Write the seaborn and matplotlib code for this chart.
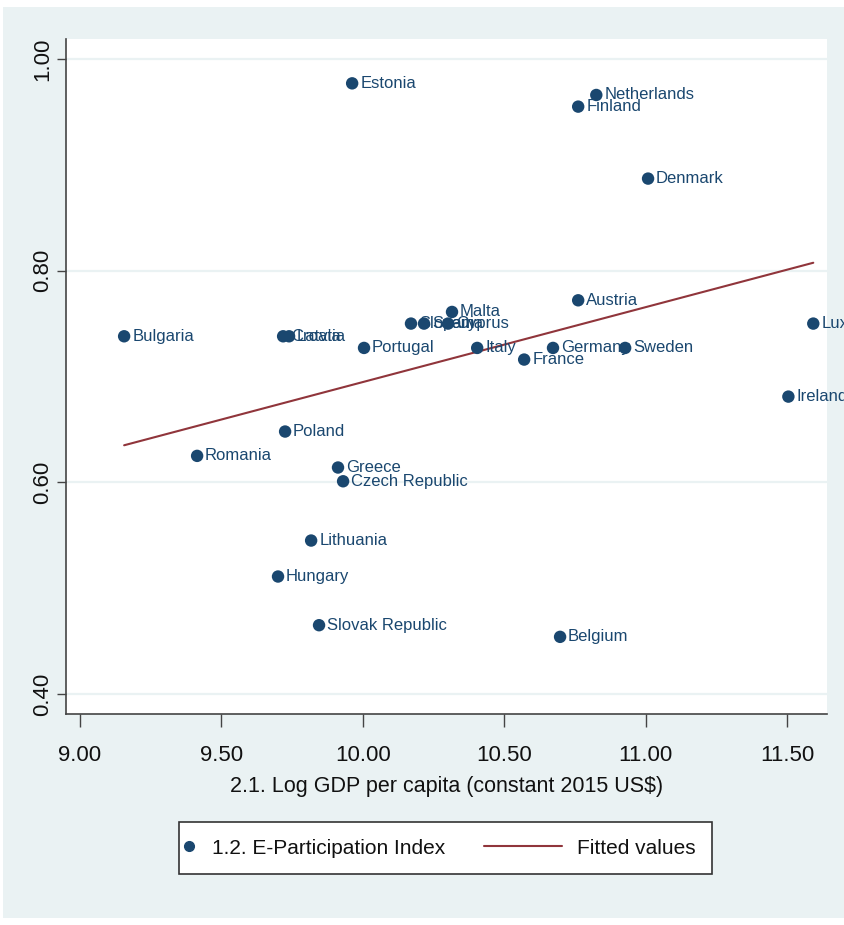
# -*- coding: utf-8 -*-
"""
E-Participation vs Log GDP per capita - scatter with fitted line
"""

import numpy as np
import pandas as pd
import seaborn as sns
import matplotlib.pyplot as plt
from matplotlib.lines import Line2D
from matplotlib.patches import Rectangle
from matplotlib.legend_handler import HandlerLine2D

# -----------------------------
# Data
# -----------------------------
countries = ["Estonia", "Netherlands", "Finland", "Denmark", "Austria", "Malta",
             "Slovenia", "Spain", "Cyprus", "Luxembourg", "Bulgaria", "Croatia",
             "Latvia", "Portugal", "Italy", "Germany", "Sweden", "France",
             "Ireland", "Poland", "Romania", "Greece", "Czech Republic",
             "Lithuania", "Hungary", "Slovak Republic", "Belgium"]
log_gdp = [9.962, 10.825, 10.761, 11.008, 10.761, 10.315,
           10.170, 10.216, 10.301, 11.592, 9.156, 9.718,
           9.739, 10.004, 10.404, 10.672, 10.927, 10.570,
           11.504, 9.725, 9.414, 9.912, 9.930,
           9.817, 9.700, 9.845, 10.697]
e_part = [0.977, 0.966, 0.955, 0.887, 0.772, 0.761,
          0.750, 0.750, 0.750, 0.750, 0.738, 0.738,
          0.738, 0.727, 0.727, 0.727, 0.727, 0.716,
          0.681, 0.648, 0.625, 0.614, 0.601,
          0.545, 0.511, 0.465, 0.454]

x_ticks = [9.0, 9.5, 10.0, 10.5, 11.0, 11.5]
y_ticks = [0.4, 0.6, 0.8, 1.0]

df = pd.DataFrame({"country": countries, "gdp": log_gdp, "epart": e_part})

# -----------------------------
# Style
# -----------------------------
sns.set_style("white")
plt.rcParams['font.family'] = ['Liberation Sans', 'DejaVu Sans']

NAVY = "#1a476f"
RED = "#90353b"
BG = "#eaf2f3"
AXC = "#444444"
TXT = "#111111"

fig = plt.figure(figsize=(8.45, 9.25), dpi=100)
fig.patch.set_facecolor("white")
fig.patches.append(Rectangle((3 / 845, 7 / 925), 842 / 845, 911 / 925,
                             transform=fig.transFigure, facecolor=BG,
                             edgecolor="none", zorder=-10))

ax = fig.add_axes([66 / 845, 1 - 714 / 925, 761 / 845, 675 / 925])
ax.set_facecolor("white")

# grid
for yv in y_ticks:
    ax.axhline(yv, color=BG, lw=1.6, zorder=0)

# scatter + fitted line
sns.scatterplot(data=df, x="gdp", y="epart", ax=ax, color=NAVY, s=80,
                edgecolor="none", zorder=3, legend=False)
sns.regplot(data=df, x="gdp", y="epart", ax=ax, scatter=False, ci=None,
            truncate=True, line_kws={"color": RED, "lw": 1.5, "zorder": 2})

# marker labels
for name, xv, yv in zip(countries, log_gdp, e_part):
    ax.annotate(name, (xv, yv), xytext=(8, 0), textcoords="offset pixels",
                ha="left", va="center", fontsize=12, color=NAVY,
                annotation_clip=False, zorder=4)

ax.set_xlim(8.9505, 11.6405)
ax.set_ylim(0.3811, 1.0189)
ax.set_xticks(x_ticks)
ax.set_yticks(y_ticks)
ax.set_xticklabels([f"{v:.2f}" for v in x_ticks], fontsize=16, color=TXT)
ax.set_yticklabels([f"{v:.2f}" for v in y_ticks], fontsize=16, rotation=90,
                   va="center", color=TXT)
ax.tick_params(axis="x", direction="out", length=9.5, width=1, color=AXC,
               bottom=True, pad=13)
ax.tick_params(axis="y", direction="out", length=6.5, width=1, color=AXC,
               left=True, pad=3)
ax.set_xlabel("2.1. Log GDP per capita (constant 2015 US$)", fontsize=15.5,
              labelpad=7, color=TXT)
ax.set_ylabel("")

for side in ["top", "right"]:
    ax.spines[side].set_visible(False)
for side in ["left", "bottom"]:
    ax.spines[side].set_color(AXC)
    ax.spines[side].set_linewidth(1.2)


# legend handles: dot sits in the left padding, line reaches back into the column gap
class DotHandler(HandlerLine2D):
    def get_xdata(self, legend, xdescent, ydescent, width, height, fontsize):
        xd = np.array([-xdescent - 10.0, -xdescent])
        return xd, xd


class LongLineHandler(HandlerLine2D):
    def get_xdata(self, legend, xdescent, ydescent, width, height, fontsize):
        xd = np.array([-xdescent - 55.0, -xdescent + 1.5])
        return xd, xd


dot_h = Line2D([], [], marker="o", ls="none", color=NAVY, markersize=7)
line_h = Line2D([], [], color=RED, lw=1.5)
leg = fig.legend([dot_h, line_h], ["1.2. E-Participation Index", "Fitted values"],
                 handler_map={dot_h: DotHandler(numpoints=1),
                              line_h: LongLineHandler(numpoints=1)},
                 loc="center", bbox_to_anchor=(445.5 / 845, 1 - 848 / 925),
                 ncol=2, fontsize=15, frameon=True, fancybox=False,
                 edgecolor="#333333", framealpha=1, handlelength=0.4,
                 handletextpad=0.4, columnspacing=5.5, borderpad=0.8)
leg.get_frame().set_linewidth(1.2)
for t in leg.get_texts():
    t.set_color(TXT)

plt.savefig("out.png", dpi=100)
plt.close()
